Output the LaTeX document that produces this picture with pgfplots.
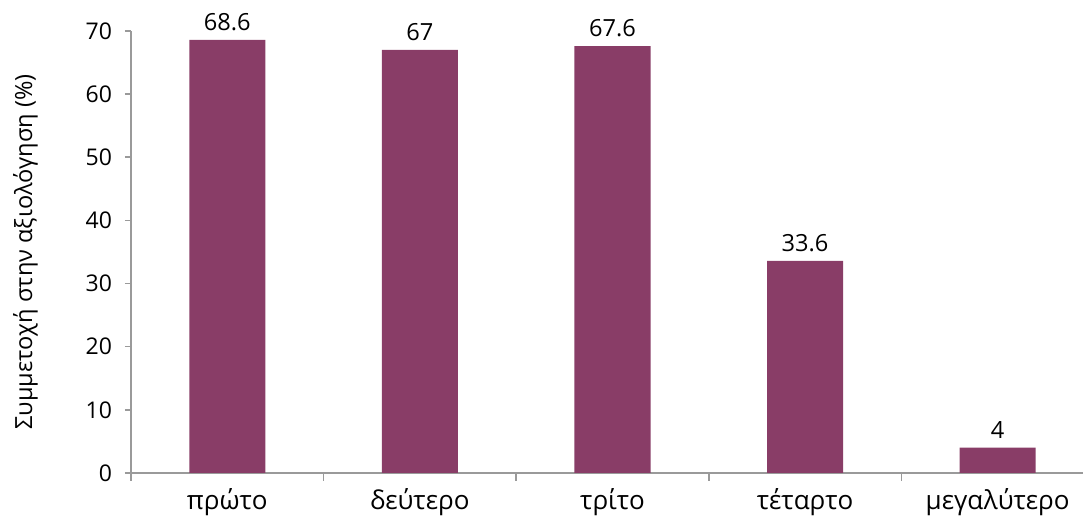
\documentclass[border=0pt]{standalone}
\usepackage{fontspec}
\setmainfont{Open Sans}
\usepackage{pgfplots}
\pgfplotsset{compat=1.18}
\definecolor{barc}{HTML}{893D67}
\definecolor{axc}{HTML}{9A9A9A}
\begin{document}
\begin{tikzpicture}
\begin{axis}[
    scale only axis,
    width=476pt, height=221pt,
    xmin=-0.5, xmax=4.443,
    ymin=0, ymax=70,
    ytick={0,10,...,70},
    xtick={0,1,2,3,4},
    xticklabels={πρώτο,δεύτερο,τρίτο,τέταρτο,μεγαλύτερο},
    minor xtick={-0.5,0.5,1.5,2.5,3.5},
    axis x line*=bottom, axis y line*=left,
    axis line style={axc, line width=0.8pt, -},
    major x tick style={draw=none},
    minor x tick style={axc, line width=0.8pt},
    y tick style={axc, line width=0.8pt},
    tick align=outside,
    major tick length=3pt, minor tick length=4pt,
    tick label style={font=\fontsize{11.5}{13}\selectfont},
    /pgf/number format/assume math mode=true,
    xticklabel style={font=\fontsize{13}{15}\selectfont, yshift=-1pt},
    yticklabel style={xshift=-3pt},
    ylabel={Συμμετοχή στην αξιολόγηση (\%)},
    ylabel style={font=\fontsize{11.8}{13}\selectfont, yshift=17pt},
    nodes near coords,
    nodes near coords style={font=\fontsize{11.8}{13}\selectfont, /pgf/number format/assume math mode=true, yshift=1pt},
    point meta=explicit symbolic,
]
\addplot[ybar, bar width=0.395, fill=barc, draw=none] coordinates {
    (0,68.6) [68.6]
    (1,67) [67]
    (2,67.6) [67.6]
    (3,33.6) [33.6]
    (4,4) [4]
};
\coordinate (bl) at (rel axis cs:0,0);
\coordinate (tr) at (rel axis cs:1,1);
\end{axis}
\pgfresetboundingbox
\path ([shift={(-65.5pt,-26pt)}]bl) rectangle ([shift={(0pt,15.5pt)}]tr);
\end{tikzpicture}
\end{document}
